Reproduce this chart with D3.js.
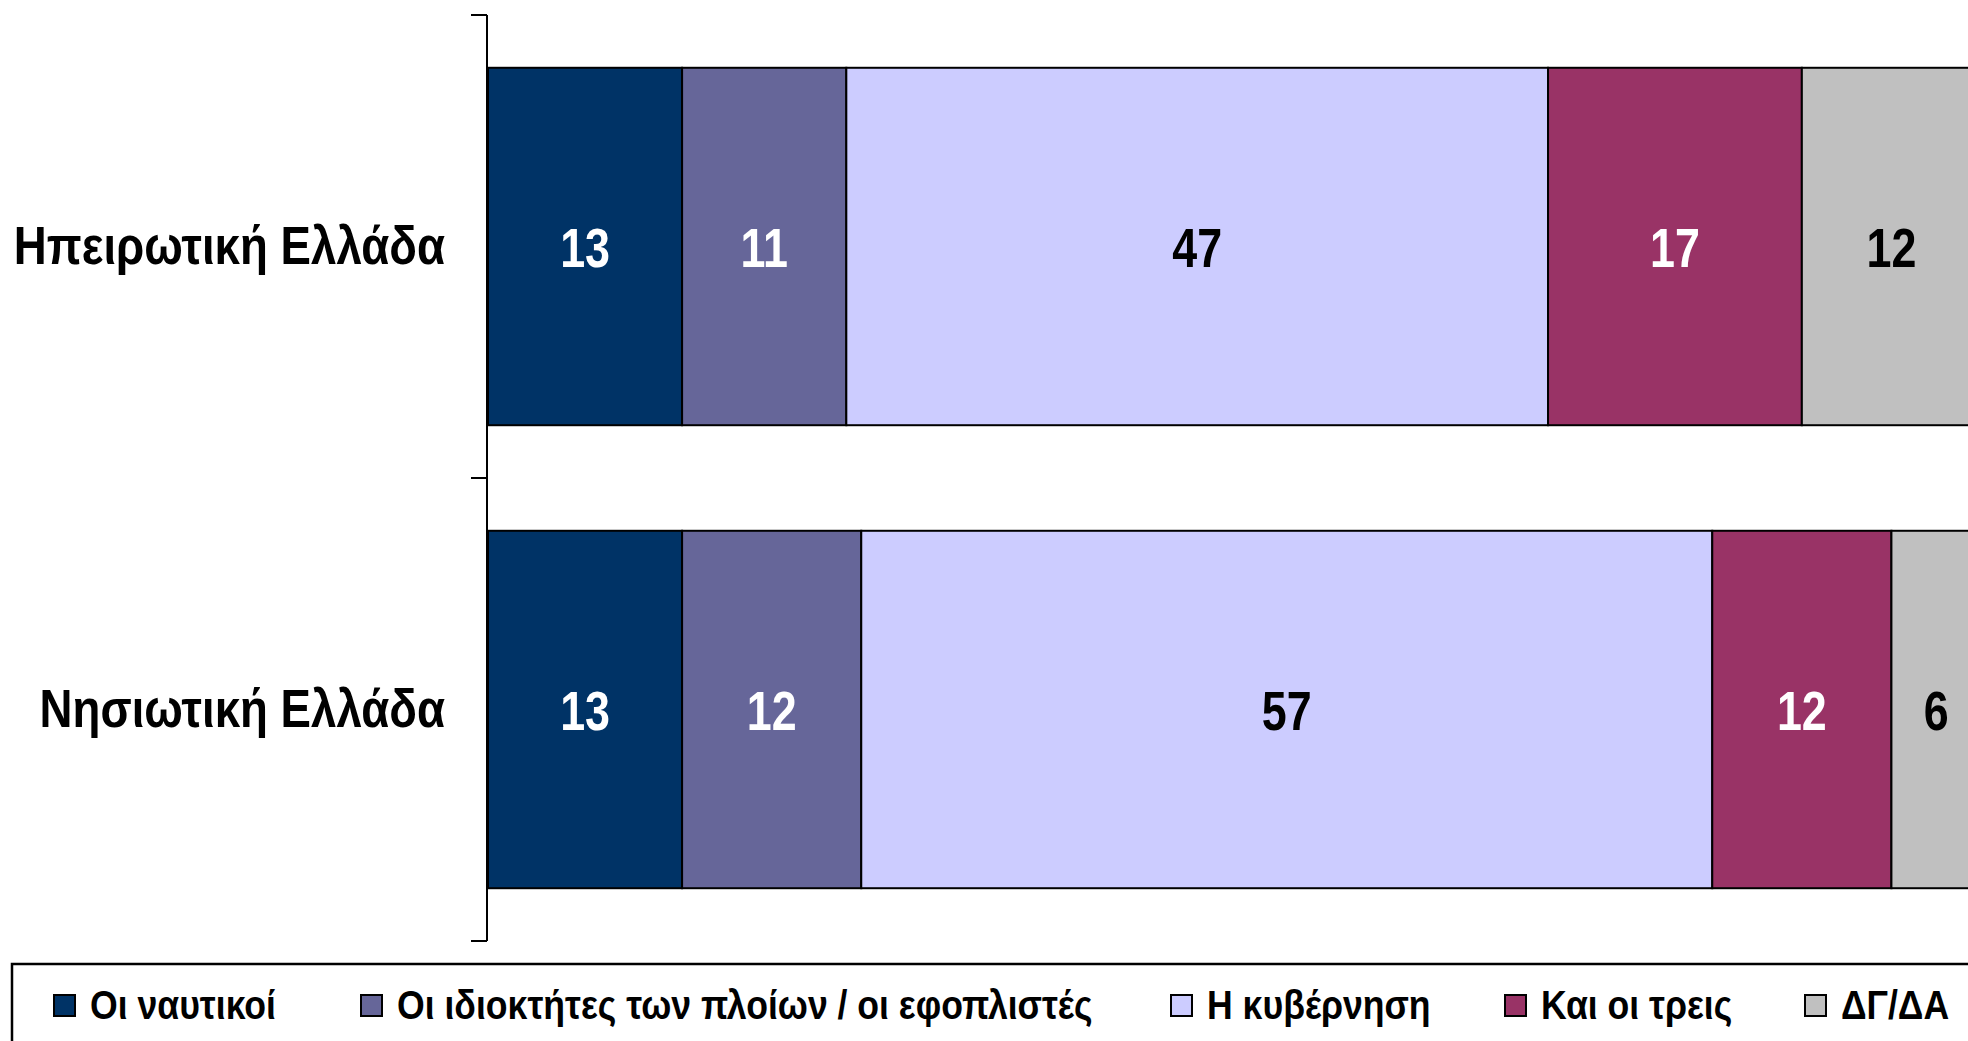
<!DOCTYPE html>
<html>
<head>
<meta charset="utf-8">
<script src="https://cdn.jsdelivr.net/npm/d3@7"></script>
<style>
  body { margin: 0; background: #fff; overflow: hidden; }
  svg { display: block; }
  text { font-family: "Liberation Sans", Arial, sans-serif; font-weight: bold; }
</style>
</head>
<body>
<script>
'use strict';

const regions = ['Ηπειρωτική Ελλάδα', 'Νησιωτική Ελλάδα'];
const answers = ['Οι ναυτικοί', 'Οι ιδιοκτήτες των πλοίων / οι εφοπλιστές', 'Η κυβέρνηση', 'Και οι τρεις', 'ΔΓ/ΔΑ'];
const mainland = [13, 11, 47, 17, 12];
const islands = [13, 12, 57, 12, 6];
const colors = ['#003366', '#666699', '#ccccff', '#993366', '#c0c0c0'];
const labelColors = ['#fff', '#fff', '#000', '#fff', '#000'];

const width = 1968;
const height = 1041;

const rows = regions.map((r, i) => {
  const vals = i === 0 ? mainland : islands;
  const o = { region: r };
  answers.forEach((a, j) => { o[a] = vals[j]; });
  return o;
});

const svg = d3.select('body')
  .append('svg')
    .attr('width', width)
    .attr('height', height);

const x = d3.scaleLinear()
  .domain([0, 100])
  .range([488, 1981]);

const y = d3.scaleBand()
  .domain(regions)
  .range([15, 941])
  .paddingInner(0.228)
  .paddingOuter(0.114);

const series = d3.stack().keys(answers)(rows);

const layer = svg.append('g')
  .selectAll('g')
    .data(series)
    .enter()
      .append('g')
        .attr('fill', (d, i) => colors[i]);

layer.selectAll('rect')
  .data(d => d)
  .enter()
    .append('rect')
      .attr('x', d => x(d[0]))
      .attr('y', d => y(d.data.region))
      .attr('width', d => x(d[1]) - x(d[0]))
      .attr('height', y.bandwidth())
      .attr('stroke', '#000')
      .attr('stroke-width', 2);

// condensed bold look: squeeze the glyphs horizontally
layer.selectAll('text')
  .data((d, i) => d.map(p => ({ p, i })))
  .enter()
    .append('text')
      .attr('transform', d => `translate(${(x(d.p[0]) + x(d.p[1])) / 2},${y(d.p.data.region) + y.bandwidth() / 2}) scale(0.8,1)`)
      .attr('dy', '0.36em')
      .attr('text-anchor', 'middle')
      .attr('fill', d => labelColors[d.i])
      .style('font-size', '56px')
      .text(d => d.p[1] - d.p[0]);

// category axis: line, ticks between categories, labels at centres
const axis = svg.append('g').attr('stroke', '#000').attr('stroke-width', 2);
const [y0, y1] = y.range();
axis.append('line')
  .attr('x1', x(0) - 1).attr('x2', x(0) - 1)
  .attr('y1', y0).attr('y2', y1);

const bounds = [y0, (y(regions[0]) + y.bandwidth() + y(regions[1])) / 2, y1];
axis.selectAll('.tick')
  .data(bounds)
  .enter()
    .append('line')
      .attr('x1', x(0) - 17).attr('x2', x(0) - 1)
      .attr('y1', d => d).attr('y2', d => d);

svg.append('g')
  .selectAll('text')
    .data(regions)
    .enter()
      .append('text')
        .attr('transform', d => `translate(${x(0) - 43},${y(d) + y.bandwidth() / 2}) scale(0.845,1)`)
        .attr('dy', '0.33em')
        .attr('text-anchor', 'end')
        .style('font-size', '54px')
        .text(d => d);

// legend
const legend = svg.append('g');
legend.append('rect')
  .attr('x', 12).attr('y', 964)
  .attr('width', 1990).attr('height', 120)
  .attr('fill', 'none')
  .attr('stroke', '#000')
  .attr('stroke-width', 2.5);

const legendX = [53, 360, 1170, 1504, 1804];
const item = legend.selectAll('.item')
  .data(answers)
  .enter()
    .append('g')
      .attr('transform', (d, i) => `translate(${legendX[i]},1019)`);

item.append('rect')
  .attr('x', 1).attr('y', -24)
  .attr('width', 21).attr('height', 21)
  .attr('fill', (d, i) => colors[i])
  .attr('stroke', '#000')
  .attr('stroke-width', 2);

item.append('text')
  .attr('transform', 'translate(37,0) scale(0.89,1)')
  .style('font-size', '40px')
  .text(d => d);
</script>
</body>
</html>
